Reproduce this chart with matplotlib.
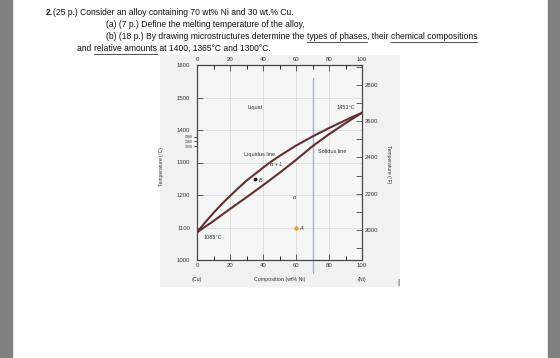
import matplotlib.pyplot as plt
from matplotlib.patches import Rectangle
from matplotlib.lines import Line2D

plt.rcParams['font.family'] = ['Liberation Sans', 'DejaVu Sans']

W, H = 560, 358

# liquidus / solidus of Cu-Ni (wt% Ni, deg C)
liq_comp = [0, 5, 10, 15, 20, 25, 30, 35, 40, 45, 50, 55, 60, 65, 70, 75, 80, 85, 90, 95, 100]
liq_temp = [1085, 1116, 1145, 1172, 1197, 1221, 1244, 1264, 1284, 1303, 1320, 1336,
            1352, 1366, 1380, 1393, 1406, 1418, 1430, 1442, 1453]
sol_comp = [0, 10, 20, 30, 40, 50, 60, 70, 80, 90, 100]
sol_temp = [1085, 1120, 1157, 1193, 1230, 1268, 1308, 1350, 1387, 1421, 1453]

alloy_comp = 70
point_A = (60, 1100)
point_B = (35, 1250)

temp_ticks = [1000, 1100, 1200, 1300, 1400, 1500, 1600]
small_ticks = [1350, 1365, 1380]
f_ticks = [2000, 2200, 2400, 2600, 2800]
comp_ticks = [0, 20, 40, 60, 80, 100]

# problem statement: (text, bold, underline)
lines = [
    (46, 12.5, [("2.", True, False),
                ("(25 p.) Consider an alloy containing 70 wt% Ni and 30 wt.% Cu.", False, False)]),
    (106, 24.5, [("(a) (7 p.) Define the melting temperature of the alloy,", False, False)]),
    (106, 36.5, [("(b) (18 p.) By drawing microstructures determine the ", False, False),
                 ("types of phases", False, True), (", their ", False, False),
                 ("chemical compositions", False, True)]),
    (77, 48.5, [("and ", False, False), ("relative amounts", False, True),
                (" at 1400, 1365\u00b0C and 1300\u00b0C.", False, False)]),
]

fig = plt.figure(figsize=(W / 100, H / 100), dpi=100)
fig.patch.set_facecolor('white')
renderer = fig.canvas.get_renderer()

# grey screen borders
fig.add_artist(Rectangle((0, 0), 12 / W, 1, transform=fig.transFigure, color='#808080', zorder=0))
fig.add_artist(Rectangle((548 / W, 0), 12 / W, 1, transform=fig.transFigure, color='#808080', zorder=0))
# light panel behind the diagram
fig.add_artist(Rectangle((160 / W, 1 - 286 / H), 239 / W, 231 / H, transform=fig.transFigure,
                         color='#f1f1f1', zorder=0))

# font size so that line 3 spans ~370 px
probe = fig.text(0, 0, "".join(s[0] for s in lines[2][2]), fontsize=10)
size = 10 * 370 / probe.get_window_extent(renderer).width
probe.remove()

for x0, y0, segs in lines:
    x = x0
    for txt, bold, under in segs:
        t = fig.text(x / W, 1 - y0 / H, txt, fontsize=size, color='#111111',
                     fontweight='bold' if bold else 'normal', ha='left', va='center')
        w = t.get_window_extent(renderer).width
        if under:
            yy = 1 - (y0 + 5) / H
            fig.add_artist(Line2D([x / W, (x + w) / W], [yy, yy], color='#333333', lw=0.6))
        x += w

# diagram
ax = fig.add_axes([197 / W, 1 - 260 / H, 165 / W, 195 / H])
ax.set_facecolor('#f6f6f6')
ax.set_xlim(0, 100)
ax.set_ylim(1000, 1600)
ax.grid(True, color='#dcdcdc', lw=0.6)
for s in ax.spines.values():
    s.set_color('#444444')
    s.set_linewidth(0.8)

ax.plot(liq_comp, liq_temp, color='#633030', lw=1.5, zorder=3)
ax.plot(sol_comp, sol_temp, color='#633030', lw=1.5, zorder=3)
ax.plot([alloy_comp, alloy_comp], [960, 1560], color='#9fb3d8', lw=1.0, clip_on=False, zorder=2)
ax.plot(*point_B, 'o', color='#111111', ms=1.8, zorder=4)
ax.plot(*point_A, 'o', color='#e8a030', ms=2.2, zorder=4)

tc = '#333333'
ax.text(35, 1468, "Liquid", fontsize=4, color=tc, ha='center', va='center')
ax.text(90, 1469, "1453\u00b0C", fontsize=4, color=tc, ha='center', va='center')
ax.text(38, 1326, "Liquidus line", fontsize=4, color=tc, ha='center', va='center')
ax.text(82, 1333, "Solidus line", fontsize=4, color=tc, ha='center', va='center')
ax.text(48, 1294, "\u03b1 + L", fontsize=4, color=tc, ha='center', va='center', style='italic')
ax.text(37.5, 1245, "B", fontsize=4, color=tc, ha='left', va='center', style='italic')
ax.text(59, 1193, "\u03b1", fontsize=4, color=tc, ha='center', va='center', style='italic')
ax.text(62, 1098, "A", fontsize=4, color=tc, ha='left', va='center', style='italic')
ax.text(9.5, 1068, "1085\u00b0C", fontsize=4, color=tc, ha='center', va='center')

ax.set_xticks(comp_ticks)
ax.set_xticks([10, 30, 50, 70, 90], minor=True)
ax.set_yticks(temp_ticks)
ax.set_yticks(small_ticks, minor=True)
ax.set_yticklabels([str(v) for v in small_ticks], minor=True, fontsize=2.6, color=tc)
ax.tick_params(axis='both', which='major', direction='in', length=4, width=0.6,
               labelsize=4.3, labelcolor=tc, color='#444444')
ax.tick_params(axis='x', which='both', top=True, labeltop=True, bottom=True, labelbottom=True, pad=2)
ax.tick_params(axis='x', which='minor', direction='in', length=3, width=0.6)
ax.tick_params(axis='y', which='major', pad=5)
ax.tick_params(axis='y', which='minor', direction='out', length=2, width=0.5, pad=0.8)

ax2 = ax.twinx()
ax2.set_ylim(1000 * 9 / 5 + 32, 1600 * 9 / 5 + 32)
ax2.set_yticks(f_ticks)
ax2.set_yticks([1900, 2100, 2300, 2500, 2700, 2900], minor=True)
ax2.tick_params(axis='y', which='both', direction='in', length=4, width=0.6,
                labelsize=4.3, labelcolor=tc, color='#444444', pad=2)
for s in ax2.spines.values():
    s.set_color('#444444')
    s.set_linewidth(0.8)

fig.text(161 / W, 1 - 167 / H, "Temperature (\u00b0C)", fontsize=3.6, color=tc,
         rotation=90, ha='center', va='center')
fig.text(389 / W, 1 - 164 / H, "Temperature (\u00b0F)", fontsize=3.6, color=tc,
         rotation=-90, ha='center', va='center')
fig.text(197 / W, 1 - 280 / H, "(Cu)", fontsize=3.8, color=tc, ha='center', va='center')
fig.text(280 / W, 1 - 280 / H, "Composition (wt% Ni)", fontsize=3.8, color=tc, ha='center', va='center')
fig.text(362 / W, 1 - 280 / H, "(Ni)", fontsize=3.8, color=tc, ha='center', va='center')
fig.text(398 / W, 1 - 282 / H, "|", fontsize=6, color='#222222', ha='center', va='center')

fig.savefig("out.png", dpi=100)
